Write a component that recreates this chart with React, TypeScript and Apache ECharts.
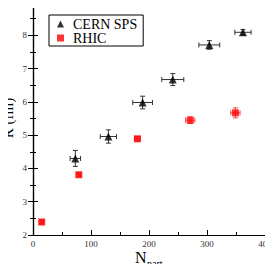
import React, { useEffect, useRef } from "react";
import * as echarts from "echarts";

const spsN = [73, 130, 189, 241, 304, 362];
const spsR = [4.3, 4.96, 5.98, 6.67, 7.71, 8.09];
const spsNErr = [9, 14, 17, 19, 18, 14];
const spsRErr = [0.24, 0.2, 0.19, 0.18, 0.13, 0.08];

const rhicN = [15, 79, 180, 271, 349];
const rhicR = [2.39, 3.81, 4.89, 5.45, 5.67];
const rhicNErr = [3, 3, 5, 8, 8];
const rhicRErr = [0.06, 0.05, 0.07, 0.1, 0.15];

const xTicks = [0, 100, 200, 300, 400];
const yTicks = [2, 3, 4, 5, 6, 7, 8, 9];

const FONT = "'Liberation Serif', 'DejaVu Serif', serif";

function errRender(color: string) {
  return (params: any, api: any) => {
    const x = api.value(0);
    const y = api.value(1);
    const ex = api.value(2);
    const ey = api.value(3);
    const l = api.coord([x - ex, y]);
    const r = api.coord([x + ex, y]);
    const t = api.coord([x, y + ey]);
    const b = api.coord([x, y - ey]);
    const c = 2.5;
    const style = { stroke: color, lineWidth: 1 };
    return {
      type: "group",
      children: [
        { type: "line", shape: { x1: l[0], y1: l[1], x2: r[0], y2: r[1] }, style },
        { type: "line", shape: { x1: l[0], y1: l[1] - c, x2: l[0], y2: l[1] + c }, style },
        { type: "line", shape: { x1: r[0], y1: r[1] - c, x2: r[0], y2: r[1] + c }, style },
        { type: "line", shape: { x1: t[0], y1: t[1], x2: b[0], y2: b[1] }, style },
        { type: "line", shape: { x1: t[0] - c, y1: t[1], x2: t[0] + c, y2: t[1] }, style },
        { type: "line", shape: { x1: b[0] - c, y1: b[1], x2: b[0] + c, y2: b[1] }, style },
      ],
    };
  };
}

export default function App() {
  const ref = useRef<HTMLDivElement>(null);
  useEffect(() => {
    if (!ref.current) return;
    const chart = echarts.init(ref.current, null, { renderer: "svg" });
    const axisCommon = {
      axisLine: { show: true, lineStyle: { color: "#000", width: 1.2 } },
      splitLine: { show: false },
      minorSplitLine: { show: false },
    };
    chart.setOption({
      animation: false,
      backgroundColor: "#fff",
      grid: { left: 33, right: 8, top: 2, bottom: 37, containLabel: false, outerBoundsMode: "none" },
      legend: {
        orient: "vertical",
        left: 49,
        top: 15,
        padding: [2, 6, 1, 8],
        itemGap: 0,
        itemWidth: 7,
        itemHeight: 7,
        borderColor: "#000",
        borderWidth: 1,
        backgroundColor: "#fff",
        textStyle: {
          fontFamily: FONT,
          fontSize: 14,
          lineHeight: 14,
          color: "#000",
          padding: [0, 0, 0, 4],
        },
        data: [
          { name: "CERN SPS", icon: "triangle" },
          { name: "RHIC", icon: "rect" },
        ],
      },
      xAxis: [
        {
          type: "value",
          min: 0,
          max: 400,
          interval: 100,
          ...axisCommon,
          axisTick: { show: true, inside: true, length: 5, lineStyle: { color: "#000" } },
          minorTick: { show: true, splitNumber: 2, length: 3, lineStyle: { color: "#000" } },
          axisLabel: {
            fontFamily: FONT,
            fontSize: 9,
            color: "#333",
            margin: 4,
            formatter: (v: number) => (xTicks.includes(v) ? String(v) : ""),
          },
        },
        {
          type: "value",
          position: "top",
          min: 0,
          max: 400,
          interval: 100,
          ...axisCommon,
          axisTick: { show: true, inside: true, length: 5, lineStyle: { color: "#000" } },
          minorTick: { show: true, splitNumber: 2, length: 3, lineStyle: { color: "#000" } },
          axisLabel: { show: false },
        },
      ],
      yAxis: [
        {
          type: "value",
          min: 2,
          max: 9,
          interval: 1,
          ...axisCommon,
          axisTick: { show: true, inside: true, length: 5, lineStyle: { color: "#000" } },
          minorTick: { show: true, splitNumber: 2, length: 3, lineStyle: { color: "#000" } },
          axisLabel: {
            fontFamily: FONT,
            fontSize: 9,
            color: "#333",
            margin: 6,
            formatter: (v: number) => (yTicks.includes(v) ? String(v) : ""),
          },
        },
        {
          type: "value",
          position: "right",
          min: 2,
          max: 9,
          interval: 1,
          ...axisCommon,
          axisTick: { show: true, inside: true, length: 5, lineStyle: { color: "#000" } },
          minorTick: { show: true, splitNumber: 2, length: 3, lineStyle: { color: "#000" } },
          axisLabel: { show: false },
        },
      ],
      graphic: [
        {
          type: "text",
          x: 8,
          y: 118,
          rotation: Math.PI / 2,
          style: {
            text: "R (fm)",
            fontFamily: FONT,
            fontSize: 15,
            fill: "#000",
            align: "center",
            verticalAlign: "middle",
          },
        },
        {
          type: "text",
          left: 135,
          top: 249,
          style: { text: "N", fontFamily: FONT, fontSize: 16, fill: "#000" },
        },
        {
          type: "text",
          left: 147,
          top: 258,
          style: { text: "part", fontFamily: FONT, fontSize: 10, fill: "#000" },
        },
      ],
      series: [
        {
          type: "custom",
          name: "sps-err",
          renderItem: errRender("#333"),
          data: spsN.map((n, i) => [n, spsR[i], spsNErr[i], spsRErr[i]]),
          z: 1,
          silent: true,
        },
        {
          type: "custom",
          name: "rhic-err",
          renderItem: errRender("#ff4040"),
          data: rhicN.map((n, i) => [n, rhicR[i], rhicNErr[i], rhicRErr[i]]),
          z: 1,
          silent: true,
        },
        {
          type: "scatter",
          name: "CERN SPS",
          symbol: "triangle",
          symbolSize: 8,
          itemStyle: { color: "#000" },
          data: spsN.map((n, i) => [n, spsR[i]]),
          z: 3,
        },
        {
          type: "scatter",
          name: "RHIC",
          symbol: "rect",
          symbolSize: 7,
          itemStyle: { color: "#ff0000" },
          data: rhicN.map((n, i) => [n, rhicR[i]]),
          z: 3,
        },
      ],
    });
    return () => chart.dispose();
  }, []);
  return <div ref={ref} style={{ width: 273, height: 272, margin: -8 }} />;
}
